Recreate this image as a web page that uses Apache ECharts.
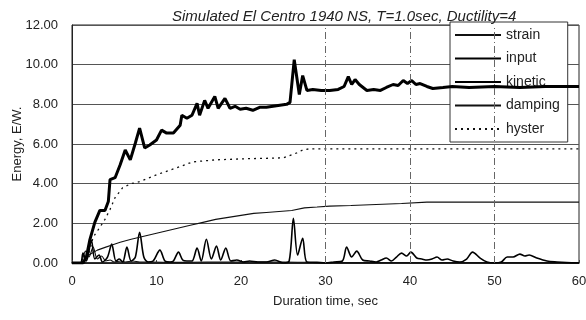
<!DOCTYPE html>
<html>
<head>
<meta charset="utf-8">
<script src="https://cdn.jsdelivr.net/npm/echarts@6/dist/echarts.min.js"></script>
<style>html,body{margin:0;padding:0;background:#fff}#c{width:586px;height:320px}</style>
</head>
<body>
<div id="c"></div>
<script>
const titleText = "Simulated El Centro 1940 NS, T=1.0sec, Ductility=4";
const xName = "Duration time, sec";
const yName = "Energy, E/W.";
const seriesNames = ["strain", "input", "kinetic", "damping", "hyster"];

const strainT = [0, 1, 1.6, 2.0, 2.5, 3.0, 3.5, 4.0, 4.5, 5.0, 5.8, 6.3, 7.2, 8, 9.5, 12, 16, 20, 25, 30, 40, 50, 60];
const strainV = [0, 0, 0.6, 0.3, 0.8, 0.2, 0.35, 0.1, 0.15, 0.05, 0.1, 0.05, 0.1, 0.05, 0.05, 0.03, 0.05, 0.05, 0.05, 0.02, 0.02, 0.02, 0.02];

const inputT = [0, 1.3, 1.7, 2.1, 2.7, 3.3, 3.9, 4.3, 4.5, 5.1, 5.7, 6.3, 6.9, 7.5, 8.0, 8.6, 9.2, 10, 10.6, 11.2, 12, 12.8, 13, 13.6, 14.2, 14.8, 15.1, 15.7, 16.1, 16.9, 17.3, 18.1, 18.7, 19.3, 19.9, 20.6, 21.4, 22.2, 23, 23.8, 24.6, 25.4, 25.8, 26.3, 26.9, 27.3, 27.8, 28.5, 29.5, 30.5, 31.5, 32.2, 32.7, 33.1, 33.5, 34, 34.9, 35.7, 36.5, 37.2, 38, 38.6, 39.2, 39.7, 40.2, 40.7, 41.2, 42, 42.7, 43.9, 45, 47, 50, 53, 56, 60];
const inputV = [0, 0, 0.3, 1.15, 2.05, 2.65, 2.65, 3.1, 4.2, 4.3, 4.95, 5.7, 5.2, 6.05, 6.8, 5.8, 5.95, 6.2, 6.7, 6.55, 6.55, 6.95, 7.45, 7.3, 7.45, 8.05, 7.45, 8.2, 7.8, 8.4, 7.8, 8.3, 7.8, 7.9, 7.75, 7.8, 7.7, 7.85, 7.85, 7.9, 7.95, 8.0, 8.1, 10.25, 8.5, 9.45, 8.7, 8.75, 8.7, 8.7, 8.75, 8.9, 9.4, 9.0, 9.25, 9.0, 8.7, 8.75, 8.7, 8.85, 9.0, 8.95, 9.2, 9.05, 9.2, 9.0, 9.05, 8.9, 8.8, 8.85, 8.9, 8.85, 8.9, 8.85, 8.9, 8.9];

const kineticT = [0, 1, 1.3, 1.7, 2.3, 2.7, 3.2, 3.6, 4.2, 4.7, 5.2, 5.6, 6.0, 6.5, 7.0, 7.5, 8.0, 8.5, 9.0, 9.6, 10.4, 11.0, 11.6, 12.0, 12.6, 13.1, 13.6, 14.2, 14.8, 15.3, 15.9, 16.5, 17.1, 17.6, 18.2, 18.8, 19.5, 20.3, 21, 22, 23, 24, 25, 25.7, 26.2, 26.7, 27.3, 27.8, 29, 30, 31, 32, 32.5, 33.1, 33.7, 34.4, 35.2, 36, 36.6, 37.2, 37.8, 38.4, 39, 39.6, 40.1, 40.8, 41.4, 42, 42.6, 43.2, 43.8, 44.4, 45.1, 45.9, 46.7, 47.4, 48.3, 49.1, 50, 50.8, 51.5, 52.2, 53, 53.6, 54.1, 55, 56.2, 57.4, 58.5, 60];
const kineticV = [0, 0, 0.5, 0.1, 1.15, 0.2, 0.4, 0.05, 0.3, 0.95, 0.1, 0.2, 0.05, 0.8, 0.1, 0.3, 1.55, 0.3, 0.05, 0.1, 0.65, 0.1, 0.05, 0.1, 0.55, 0.15, 0.1, 0.1, 0.75, 0.1, 1.2, 0.2, 0.85, 0.15, 0.75, 0.1, 0.15, 0.05, 0.1, 0.05, 0.05, 0.15, 0.0, 0.1, 2.25, 0.4, 1.25, 0.05, 0.03, 0.0, 0.05, 0.1, 0.8, 0.3, 0.6, 0.15, 0.1, 0.05, 0.15, 0.25, 0.1, 0.3, 0.5, 0.35, 0.55, 0.25, 0.2, 0.15, 0.2, 0.3, 0.15, 0.2, 0.1, 0.05, 0.2, 0.55, 0.25, 0.05, 0.0, 0.05, 0.3, 0.3, 0.45, 0.35, 0.4, 0.25, 0.1, 0.05, 0.02, 0];

const dampingT = [0, 1, 1.5, 2, 3, 4, 5, 5.7, 7, 8.5, 10, 11, 12.5, 14, 15.5, 17, 18.5, 20, 21.5, 23, 24.5, 26, 27.5, 29, 30.5, 33, 36, 39, 42, 45, 50, 55, 60];
const dampingV = [0, 0, 0.15, 0.4, 0.65, 0.8, 0.95, 1.05, 1.2, 1.35, 1.5, 1.6, 1.75, 1.9, 2.05, 2.2, 2.3, 2.4, 2.5, 2.55, 2.6, 2.65, 2.78, 2.82, 2.87, 2.9, 2.95, 3.0, 3.07, 3.07, 3.07, 3.07, 3.07];

const hysterT = [0, 1.5, 2, 2.5, 3.3, 3.9, 4.5, 5.1, 6, 7, 8, 10, 12.4, 14.3, 17, 20, 25, 26.6, 27.3, 28, 60];
const hysterV = [0, 0, 0.5, 1.3, 1.8, 2.2, 2.7, 3.3, 3.8, 4.0, 4.1, 4.45, 4.8, 5.1, 5.2, 5.25, 5.3, 5.55, 5.7, 5.75, 5.75];

const xTicks = [0, 10, 20, 30, 40, 50, 60];
const yTicks = [0, 2, 4, 6, 8, 10, 12];
const vGridAt = [30, 40, 50];

function pairs(t, v) { return t.map((x, i) => [x, v[i]]); }

const font = "'Liberation Sans', Arial, sans-serif";
const chart = echarts.init(document.getElementById('c'), null, { renderer: 'canvas' });

const thin = { color: '#111', width: 1.1 };
chart.setOption({
  animation: false,
  backgroundColor: '#fff',
  title: {
    text: titleText,
    left: 167, top: 4,
    textStyle: { fontFamily: font, fontSize: 15, fontWeight: 'normal', fontStyle: 'italic', color: '#222' }
  },
  grid: { left: 72, right: 7, top: 25, bottom: 57, show: true, borderColor: '#222', borderWidth: 1, containLabel: false, outerBoundsMode: 'none' },
  legend: {
    orient: 'vertical', left: 450, top: 22,
    padding: [6, 8, 6, 4], itemGap: 9.5, itemWidth: 46, itemHeight: 14,
    backgroundColor: '#fff', borderColor: '#333', borderWidth: 1,
    itemStyle: { opacity: 0 },
    textStyle: { fontFamily: font, fontSize: 14, color: '#222' },
    data: seriesNames
  },
  xAxis: {
    type: 'value', min: xTicks[0], max: xTicks[xTicks.length - 1], interval: 10,
    name: xName, nameLocation: 'middle', nameGap: 32,
    nameTextStyle: { fontFamily: font, fontSize: 13, color: '#222' },
    axisLine: { lineStyle: { color: '#111', width: 1.5 } },
    axisTick: { show: true, inside: true, length: 3, lineStyle: { color: '#444' } },
    axisLabel: { fontFamily: font, fontSize: 13, color: '#222', margin: 12 },
    splitLine: { show: false }
  },
  yAxis: {
    type: 'value', min: yTicks[0], max: yTicks[yTicks.length - 1], interval: 2,
    name: yName, nameLocation: 'middle', nameGap: 48, nameMoveOverlap: false,
    nameTextStyle: { fontFamily: font, fontSize: 13, color: '#222' },
    axisLine: { show: true, lineStyle: { color: '#222', width: 1 } },
    axisTick: { show: false },
    axisLabel: { fontFamily: font, fontSize: 13, color: '#222', margin: 14, formatter: v => v.toFixed(2) },
    splitLine: { show: true, lineStyle: { color: '#555', width: 1 } }
  },
  series: [
    { name: 'strain', type: 'line', symbol: 'none', smooth: 0.3, data: pairs(strainT, strainV), lineStyle: thin, itemStyle: { color: '#111' }, z: 3 },
    { name: 'input', type: 'line', symbol: 'none', data: pairs(inputT, inputV), lineStyle: { color: '#000', width: 3 }, itemStyle: { color: '#000' }, z: 4,
      markLine: { silent: true, symbol: 'none', label: { show: false },
        lineStyle: { color: '#666', width: 1, type: [7, 3, 1, 3] },
        data: vGridAt.map(x => ({ xAxis: x })) } },
    { name: 'kinetic', type: 'line', symbol: 'none', smooth: 0.3, data: pairs(kineticT, kineticV), lineStyle: { color: '#000', width: 1.6 }, itemStyle: { color: '#000' }, z: 3 },
    { name: 'damping', type: 'line', symbol: 'none', data: pairs(dampingT, dampingV), lineStyle: thin, itemStyle: { color: '#111' }, z: 3 },
    { name: 'hyster', type: 'line', symbol: 'none', data: pairs(hysterT, hysterV), lineStyle: { color: '#111', width: 1.3, type: [2, 4] }, itemStyle: { color: '#111' }, z: 3 }
  ]
});
</script>
</body>
</html>
